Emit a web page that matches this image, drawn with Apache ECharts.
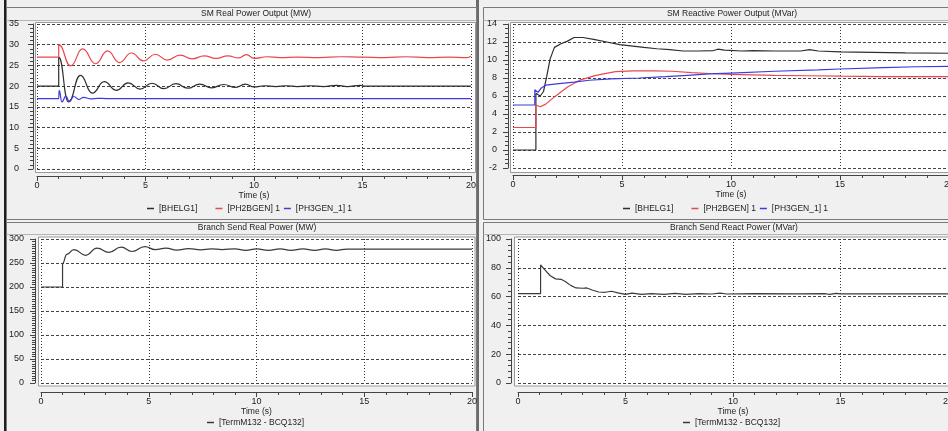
<!DOCTYPE html>
<html>
<head>
    <meta charset="UTF-8">
    <title>SM / Branch power</title>
    <style>
        html, body {margin: 0; padding: 0; background: #f0f0f0;}
        #main {width: 948px; height: 431px;}
    </style>
</head>
<body>
    <div id="main"></div>

    <script src="https://cdn.jsdelivr.net/npm/echarts@6/dist/echarts.min.js"></script>
    <script>
        /* data: [time (s), value] */
        var timeRange = [0, 20, 5];          // min, max, interval
        var realRange = [0, 35, 5];
        var reactRange = [-2, 14, 2];
        var branchRealRange = [0, 300, 50];
        var branchReactRange = [0, 100, 20];

        var genNames = ['[BHELG1]', '[PH2BGEN] 1', '[PH3GEN_1] 1'];
        var branchName = '[TermM132 - BCQ132]';

        var realBhelg = [[0,20],[1.0,20],[1.0,27],[1.45,16.2],[2.0,22.6],[2.55,18.3],[3.1,21.1],[3.65,19.0],
            [4.2,20.8],[4.75,19.3],[5.3,20.7],[5.85,19.4],[6.4,20.6],[6.95,19.5],[7.5,20.5],[8.05,19.6],
            [8.6,20.4],[9.15,19.7],[9.6,20.5],[10.0,19.8],[10.5,20.1],[11.0,19.9],[11.5,20.1],[12.0,19.9],
            [12.6,20.1],[13.2,19.9],[13.8,20.2],[14.3,19.9],[14.9,20.2],[15.1,20],[20,20]];
        var realPh2 = [[0,27],[1.0,27],[1.0,30],[1.55,24.9],[2.1,29.0],[2.7,25.4],[3.25,28.5],[3.8,25.7],
            [4.35,28.0],[4.9,26.1],[5.45,27.7],[6.0,26.3],[6.6,27.5],[7.15,26.6],[7.7,27.3],[8.25,26.7],
            [8.8,27.3],[9.3,26.8],[9.65,27.6],[10.0,26.7],[10.6,27.1],[11.2,26.9],[12,27.0],[13,26.9],
            [14,27.1],[15,27],[16,26.9],[17,27.1],[18,26.9],[19,27],[19.8,26.9],[20,27.3]];
        var realPh3 = [[0,17],[1.0,17],[1.02,19.0],[1.15,16.2],[1.33,17.6],[1.48,16.3],[1.7,17.5],[1.92,16.8],
            [2.15,17.3],[2.45,16.95],[2.8,17.05],[3.2,17],[20,17]];

        var reactBhelg = [[0,0],[1.05,0],[1.05,6.3],[1.25,6.0],[1.4,6.5],[1.55,8.2],[1.7,10.1],[1.9,11.4],
            [2.2,11.8],[2.5,12.1],[2.8,12.5],[3.2,12.5],[3.7,12.3],[4.3,12.0],[4.9,11.7],[5.5,11.55],
            [6.0,11.4],[6.6,11.25],[7.2,11.15],[7.8,11.0],[8.5,11.0],[9.2,11.05],[9.4,11.2],[9.7,11.1],
            [10.5,11.0],[11.0,11.05],[12,11.0],[13.2,11.0],[13.6,11.15],[14,11.0],[15,10.9],[16.5,10.85],
            [18,10.8],[20,10.75]];
        var reactPh2 = [[0,2.5],[1.05,2.5],[1.05,5.0],[1.25,4.8],[1.5,5.1],[1.9,5.9],[2.5,7.0],[3.1,7.8],
            [3.8,8.3],[4.7,8.7],[5.5,8.8],[6.5,8.8],[7.3,8.75],[8.2,8.6],[9.0,8.5],[10,8.4],[11,8.35],
            [12,8.3],[13.5,8.25],[15,8.2],[17,8.15],[20,8.15]];
        var reactPh3 = [[0,5.0],[1.0,5.0],[1.0,6.7],[1.15,6.4],[1.3,6.9],[1.5,7.2],[2.0,7.35],[2.8,7.55],
            [3.5,7.75],[4.5,7.9],[5.8,8.0],[7.0,8.15],[8.0,8.3],[9.0,8.45],[10,8.55],[12,8.75],[14,8.9],
            [15,9.0],[17,9.15],[18.5,9.25],[20,9.3]];

        var branchReal = [[0,200],[1.0,200],[1.0,249],[1.2,268],[1.53,278],[2.07,266],[2.6,281],[3.15,272],
            [3.72,283],[4.22,274],[4.82,284],[5.3,278],[5.8,281],[6.3,277],[6.85,280],[7.4,277.5],[7.9,279.5],
            [8.4,278],[9.0,279.5],[9.5,276.5],[10.0,279.5],[10.55,276.5],[11.1,279.5],[11.6,276.5],
            [12.15,279.5],[12.7,276.5],[13.2,279.5],[13.7,276.5],[14.2,279],[20,279]];
        var branchReact = [[0,62],[1.05,62],[1.05,82],[1.25,78.5],[1.5,74.5],[1.75,72.3],[2.0,72],[2.2,70.5],
            [2.45,67.8],[2.7,66],[3.0,65.8],[3.2,66],[3.45,64.6],[3.75,63.2],[4.05,63],[4.35,63.7],[4.65,62.6],
            [5.0,61.6],[5.3,62.4],[5.75,61.6],[6.2,62.1],[6.8,61.5],[7.3,62.2],[7.8,61.6],[8.4,62],[9.0,61.8],
            [9.4,62.4],[9.7,61.8],[11,62],[13,61.9],[14.3,62],[14.5,61.6],[14.8,62.3],[15,61.9],[20,61.9]];

        /* 画图 */
        var FONT = '"Liberation Sans", Arial, sans-serif';
        var black = '#2e2e2e', red = '#e8474f', blue = '#3b3be0', gray = '#3a3a3a';

        function xAx(i, offset, nameGap) {
            return {
                gridIndex: i, type: 'value', position: 'bottom',
                min: timeRange[0], max: timeRange[1], interval: timeRange[2], offset: offset,
                name: 'Time (s)', nameLocation: 'middle', nameGap: nameGap,
                nameTextStyle: {fontSize: 8.5, color: '#222', fontFamily: FONT},
                axisLine: {show: true, onZero: false, lineStyle: {color: '#444', width: 1}},
                axisTick: {show: true, inside: false, length: 5, lineStyle: {color: '#444'}},
                minorTick: {show: true, splitNumber: 5, length: 3, lineStyle: {color: '#444'}},
                axisLabel: {margin: 5, fontSize: 9, color: '#222', fontFamily: FONT},
                splitLine: {show: true, lineStyle: {color: '#333', type: [1, 2], width: 1}},
                minorSplitLine: {show: false}
            };
        }
        function yAx(i, range, offset, margin, minor) {
            return {
                gridIndex: i, type: 'value', position: 'left',
                min: range[0], max: range[1], interval: range[2], offset: offset,
                axisLine: {show: true, onZero: false, lineStyle: {color: '#444', width: 1}},
                axisTick: {show: true, inside: false, length: 5, lineStyle: {color: '#444'}},
                minorTick: {show: true, splitNumber: minor, length: 3, lineStyle: {color: '#444'}},
                axisLabel: {margin: margin, fontSize: 9, color: '#222', fontFamily: FONT},
                splitLine: {show: true, lineStyle: {color: '#444', type: [3, 2], width: 1}},
                minorSplitLine: {show: false}
            };
        }
        function line(name, data, color, i, smooth) {
            return {
                name: name, type: 'line', xAxisIndex: i, yAxisIndex: i, data: data,
                symbol: 'none', showSymbol: false, clip: true,
                smooth: smooth ? 0.5 : false, smoothMonotone: 'x',
                lineStyle: {color: color, width: 1.2}, itemStyle: {color: color},
                emphasis: {disabled: true}
            };
        }
        function legend(names, left, top) {
            return {
                data: names, left: left, top: top, orient: 'horizontal', padding: 0,
                icon: 'rect', itemWidth: 7, itemHeight: 1.5, itemGap: 4, selectedMode: false,
                // the first entry sits further from the others in the picture
                formatter: function (n) { return n === genNames[0] ? n + '      ' : n; },
                textStyle: {fontSize: 8.5, color: '#222', fontFamily: FONT}
            };
        }

        // panel frames (layout only)
        var frames = [
            {x: 6.5, y: 7.5, w: 470, h: 212},
            {x: 483.5, y: 7.5, w: 480, h: 212},
            {x: 6.5, y: 222.5, w: 470, h: 215},
            {x: 483.5, y: 222.5, w: 480, h: 215}
        ];
        var plots = [
            {x: 35, y: 22, w: 440, h: 150},
            {x: 510, y: 22, w: 450, h: 150},
            {x: 38, y: 236.5, w: 436.5, h: 149},
            {x: 514, y: 236.5, w: 450, h: 149}
        ];
        var titles = [
            {text: 'SM Real Power Output (MW)', x: 256, y: 13.5},
            {text: 'SM Reactive Power Output (MVar)', x: 732, y: 13.5},
            {text: 'Branch Send Real Power (MW)', x: 257, y: 227.5},
            {text: 'Branch Send React Power (MVar)', x: 734, y: 227.5}
        ];
        var barLines = [20.5, 20.5, 234.5, 234.5];

        var graphics = [
            {type: 'rect', z: -20, shape: {x: 4, y: 0, width: 2.5, height: 431}, style: {fill: '#1e1e1e'}},
            {type: 'rect', z: -20, shape: {x: 476, y: 0, width: 3, height: 431}, style: {fill: '#6a6a6a'}}
        ];
        frames.forEach(function (f, k) {
            graphics.push({type: 'rect', z: -19, shape: {x: f.x, y: f.y, width: f.w, height: f.h},
                style: {fill: '#f0f0f0', stroke: '#7a7a7a', lineWidth: 1}});
            graphics.push({type: 'line', z: -18, shape: {x1: f.x, y1: barLines[k], x2: f.x + f.w, y2: barLines[k]},
                style: {stroke: '#b4b4b4', lineWidth: 1}});
        });
        plots.forEach(function (p) {
            graphics.push({type: 'rect', z: -17, shape: {x: p.x + 0.5, y: p.y + 0.5, width: p.w, height: p.h},
                style: {fill: '#ffffff', stroke: '#9a9a9a', lineWidth: 1}});
        });
        titles.forEach(function (t) {
            graphics.push({type: 'text', z: 10, x: t.x, y: t.y,
                style: {text: t.text, fill: '#222', font: '8.5px ' + FONT, align: 'center', verticalAlign: 'middle'}});
        });

        var app = echarts.init(document.getElementById('main'), null, {renderer: 'canvas'});
        var option = {
            animation: false,
            backgroundColor: '#f0f0f0',
            graphic: {elements: graphics},
            grid: [
                {left: 37, top: 24, width: 434, height: 145, outerBoundsMode: 'none', containLabel: false},
                {left: 513, top: 24, width: 436, height: 144, outerBoundsMode: 'none', containLabel: false},
                {left: 41, top: 239, width: 431, height: 144, outerBoundsMode: 'none', containLabel: false},
                {left: 518, top: 239, width: 430, height: 144, outerBoundsMode: 'none', containLabel: false}
            ],
            xAxis: [xAx(0, 7, 14), xAx(1, 7, 14), xAx(2, 9, 15), xAx(3, 9, 15)],
            yAxis: [
                yAx(0, realRange, 4, 14, 5),
                yAx(1, reactRange, 5, 11, 4),
                yAx(2, branchRealRange, 6, 11, 10),
                yAx(3, branchReactRange, 7, 10, 5)
            ],
            legend: [
                legend(genNames, 147, 204),
                legend(genNames, 623, 204),
                legend([branchName], 207, 418),
                legend([branchName], 683, 418)
            ],
            series: [
                line(genNames[0], realBhelg, black, 0, true),
                line(genNames[1], realPh2, red, 0, true),
                line(genNames[2], realPh3, blue, 0, true),
                line(genNames[0], reactBhelg, black, 1, false),
                line(genNames[1], reactPh2, red, 1, false),
                line(genNames[2], reactPh3, blue, 1, false),
                line(branchName, branchReal, gray, 2, true),
                line(branchName, branchReact, gray, 3, false)
            ]
        };
        app.setOption(option);
        window.addEventListener('resize', function () {
            app.resize();
        });
    </script>
</body>
</html>
